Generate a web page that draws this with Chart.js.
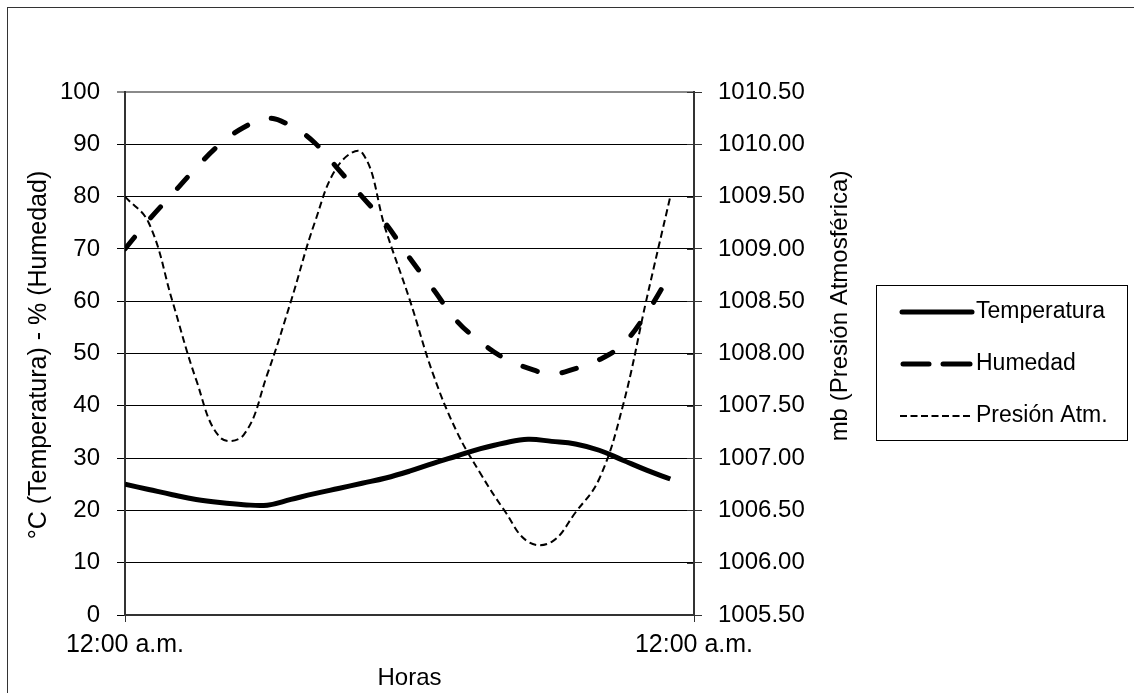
<!DOCTYPE html>
<html>
<head>
<meta charset="utf-8">
<script src="https://cdn.jsdelivr.net/npm/chart.js@4.4.1/dist/chart.umd.min.js"></script>
<style>
html,body{margin:0;padding:0;background:#fff;}
#wrap{width:1134px;height:693px;position:relative;}
canvas{display:block;}
</style>
</head>
<body>
<div id="wrap"><canvas id="c" width="1134" height="693"></canvas></div>
<script>
// ---- data (hourly readings 0:00 .. 23:00) ----
const hours = [0,1,2,3,4,5,6,7,8,9,10,11,12,13,14,15,16,17,18,19,20,21,22,23];
const temperatura = [25.0,24.0,23.0,22.1,21.5,21.1,21.0,22.1,23.2,24.2,25.2,26.2,27.5,29.0,30.4,31.8,32.9,33.6,33.2,32.7,31.5,29.6,27.7,26.0];
const humedad = [70,75.5,80.5,85.5,90,93.2,95,93.5,90.3,85.2,80,74.8,68.3,62.3,56.2,52.2,49.1,47.2,46.1,47.1,48.8,51.8,57.7,65.2];
const presion = [1009.50,1009.25,1008.50,1007.75,1007.20,1007.22,1007.80,1008.50,1009.25,1009.80,1009.92,1009.18,1008.52,1007.80,1007.25,1006.85,1006.50,1006.20,1006.20,1006.48,1006.80,1007.50,1008.52,1009.50];
const seriesNames = ['Temperatura','Humedad','Presión Atm.'];
const xTickLabels = ['12:00 a.m.','12:00 a.m.'];
const xTickValues = [0,24];
const yLeftTitle = '°C (Temperatura) - % (Humedad)';
const yRightTitle = 'mb (Presión Atmosférica)';
const xTitle = 'Horas';

const FONT = '"Liberation Sans", Arial, sans-serif';
const toXY = (arr) => hours.map((h,i) => ({x:h, y:arr[i]}));

const decorPlugin = {
  id:'decor',
  beforeDraw(chart){
    const ctx = chart.ctx;
    ctx.save();
    ctx.fillStyle = '#fff';
    ctx.fillRect(0,0,chart.width,chart.height);
    ctx.restore();
  },
  afterDraw(chart){
    const ctx = chart.ctx;
    const ca = chart.chartArea;
    ctx.save();
    // outer frame
    ctx.strokeStyle = '#333';
    ctx.lineWidth = 1;
    ctx.strokeRect(7.5, 7.5, chart.width + 20, chart.height + 20);
    // right axis inner tick parts
    const y2 = chart.scales.y2;
    ctx.strokeStyle = '#333';
    ctx.lineWidth = 1;
    y2.ticks.forEach(t => {
      const py = Math.round(y2.getPixelForValue(t.value)) + 0.5;
      ctx.beginPath(); ctx.moveTo(ca.right - 7, py); ctx.lineTo(ca.right, py); ctx.stroke();
    });
    // axis titles
    ctx.fillStyle = '#000';
    ctx.textAlign = 'center';
    ctx.textBaseline = 'middle';
    ctx.font = '25px ' + FONT;
    ctx.save(); ctx.translate(39, 355); ctx.rotate(-Math.PI/2); ctx.fillText(yLeftTitle, 0, 0); ctx.restore();
    ctx.font = '24px ' + FONT;
    ctx.save(); ctx.translate(840, 306); ctx.rotate(-Math.PI/2); ctx.fillText(yRightTitle, 0, 0); ctx.restore();
    ctx.font = '24px ' + FONT;
    ctx.fillText(xTitle, (ca.left + ca.right)/2, 678);
    // legend
    const lx = 876.5, ly = 285.5, lw = 251, lh = 155;
    ctx.strokeStyle = '#000'; ctx.lineWidth = 1;
    ctx.strokeRect(lx, ly, lw, lh);
    const rows = [312, 364, 416];
    chart.data.datasets.forEach((ds, i) => {
      const y = rows[i];
      ctx.save();
      ctx.strokeStyle = ds.borderColor;
      ctx.lineWidth = ds.borderWidth;
      if (i === 0) {
        ctx.lineCap = 'round';
        ctx.beginPath(); ctx.moveTo(902, y); ctx.lineTo(972, y); ctx.stroke();
      } else if (i === 1) {
        ctx.lineCap = 'round';
        ctx.beginPath(); ctx.moveTo(903, y); ctx.lineTo(929, y); ctx.stroke();
        ctx.beginPath(); ctx.moveTo(943, y); ctx.lineTo(970, y); ctx.stroke();
      } else {
        ctx.setLineDash([7,3.5]);
        ctx.beginPath(); ctx.moveTo(900, y); ctx.lineTo(973, y); ctx.stroke();
      }
      ctx.restore();
      ctx.fillStyle = '#000';
      ctx.font = '23px ' + FONT;
      ctx.textAlign = 'left';
      ctx.textBaseline = 'middle';
      ctx.fillText(ds.label, 976, y);
    });
    ctx.restore();
  }
};

new Chart(document.getElementById('c'), {
  type:'line',
  data:{
    datasets:[
      {label:seriesNames[0], data:toXY(temperatura), yAxisID:'y', borderColor:'#000', borderWidth:5, pointRadius:0, tension:0.4, fill:false},
      {label:seriesNames[1], data:toXY(humedad), yAxisID:'y', borderColor:'#000', borderWidth:5, borderDash:[15,25], borderCapStyle:'round', pointRadius:0, tension:0.4, fill:false},
      {label:seriesNames[2], data:toXY(presion), yAxisID:'y2', borderColor:'#000', borderWidth:2, borderDash:[7,4], pointRadius:0, tension:0.4, fill:false}
    ]
  },
  options:{
    responsive:false,
    animation:false,
    devicePixelRatio:1,
    layout:{padding:{left:0, right:0, top:92, bottom:0}},
    plugins:{legend:{display:false}, tooltip:{enabled:false}, title:{display:false}},
    scales:{
      x:{
        type:'linear', position:'bottom', min:0, max:24,
        afterBuildTicks:(s)=>{ s.ticks = xTickValues.map(v=>({value:v})); },
        afterFit:(s)=>{ s.height = 78; },
        ticks:{autoSkip:false, maxRotation:0, color:'#000', font:{family:FONT, size:25}, padding:8,
          callback:(v)=> xTickLabels[xTickValues.indexOf(v)] },
        grid:{drawOnChartArea:false, drawTicks:true, tickLength:7, color:'#333'},
        border:{color:'#333', width:2}
      },
      y:{
        position:'left', min:0, max:100,
        afterFit:(s)=>{ s.width = 125; },
        ticks:{stepSize:10, color:'#000', font:{family:FONT, size:24}, padding:17},
        grid:{drawOnChartArea:true, drawTicks:true, tickLength:8,
          color:(c)=> (c.tick && c.tick.value === 100) ? '#8a8a8a' : '#000',
          lineWidth:(c)=> (c.tick && c.tick.value === 100) ? 2 : 1},
        border:{color:'#333', width:2}
      },
      y2:{
        position:'right', min:1005.5, max:1010.5,
        afterFit:(s)=>{ s.width = 440; },
        ticks:{stepSize:0.5, color:'#000', font:{family:FONT, size:24}, padding:16,
          callback:(v)=> Number(v).toFixed(2)},
        grid:{drawOnChartArea:false, drawTicks:true, tickLength:8, color:'#333'},
        border:{color:'#333', width:2}
      }
    }
  },
  plugins:[decorPlugin]
});
</script>
</body>
</html>
